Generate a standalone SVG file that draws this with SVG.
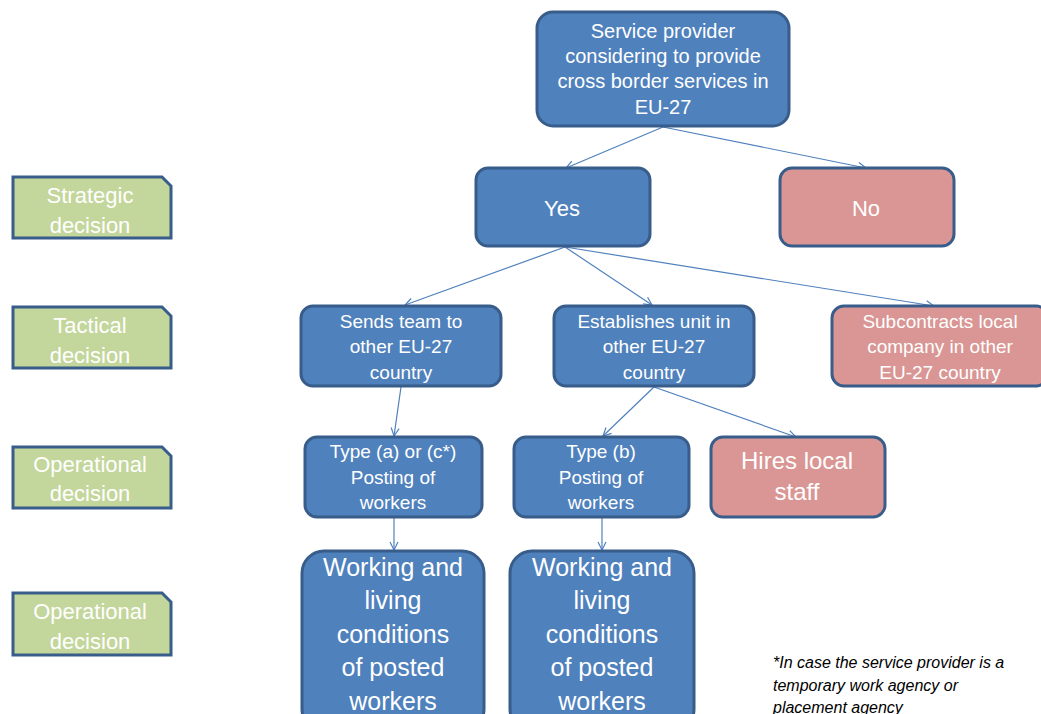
<svg xmlns="http://www.w3.org/2000/svg" width="1041" height="714" viewBox="0 0 1041 714">
<style>
.blue{fill:#4F81BD;stroke:#385D8A;stroke-width:3}
.pink{fill:#D99694;stroke:#385D8A;stroke-width:3}
.green{fill:#C3D69B;stroke:#385D8A;stroke-width:3}
text{font-family:"Liberation Sans",Arial,sans-serif;fill:#FFFFFF;text-anchor:middle}
.t20{font-size:20px}
.t19{font-size:19px}
.t22{font-size:22px}
.t24{font-size:24px}
.t25{font-size:25px}
.lab{font-size:22px}
.note{font-size:16px;font-style:italic;fill:#000000;text-anchor:start}
.conn line{stroke:#4F81BD;stroke-width:1.2;fill:none;marker-end:url(#arr)}
</style>
<defs>
<marker id="arr" markerUnits="userSpaceOnUse" markerWidth="12" markerHeight="12" refX="9" refY="5" orient="auto">
<path d="M1,1 L9,5 L1,9" fill="none" stroke="#4F81BD" stroke-width="1.2"/>
</marker>
</defs>
<rect width="1041" height="714" fill="#FFFFFF"/>

<g id="lab-strategic">
<path class="green" d="M13,177 H162 L171,186 V238 H13 Z"/>
<text class="lab" x="90" y="203">Strategic</text>
<text class="lab" x="90" y="233">decision</text>
</g>
<g id="lab-tactical">
<path class="green" d="M13,307 H162 L171,316 V368 H13 Z"/>
<text class="lab" x="90" y="333">Tactical</text>
<text class="lab" x="90" y="363">decision</text>
</g>
<g id="lab-operational1">
<path class="green" d="M13,447 H162 L171,456 V508 H13 Z"/>
<text class="lab" x="90" y="472">Operational</text>
<text class="lab" x="90" y="501">decision</text>
</g>
<g id="lab-operational2">
<path class="green" d="M13,593 H162 L171,602 V655 H13 Z"/>
<text class="lab" x="90" y="619">Operational</text>
<text class="lab" x="90" y="649">decision</text>
</g>

<g class="conn" id="connectors">
<line x1="663" y1="127" x2="566" y2="168"/>
<line x1="663" y1="127" x2="866" y2="168"/>
<line x1="565" y1="247" x2="405" y2="305"/>
<line x1="565" y1="247" x2="652" y2="305"/>
<line x1="565" y1="247" x2="934" y2="306"/>
<line x1="401" y1="387" x2="394" y2="436"/>
<line x1="654" y1="387" x2="603" y2="436"/>
<line x1="654" y1="387" x2="796" y2="437"/>
<line x1="394" y1="518" x2="394" y2="550"/>
<line x1="602" y1="518" x2="602" y2="550"/>
</g>

<g id="n-top">
<rect class="blue" x="537" y="12" width="252" height="114" rx="16"/>
<text class="t20" x="663" y="38">Service provider</text>
<text class="t20" x="663" y="63">considering to provide</text>
<text class="t20" x="663" y="88">cross border services in</text>
<text class="t20" x="663" y="114">EU-27</text>
</g>
<g id="n-yes">
<rect class="blue" x="476" y="168" width="174" height="78" rx="12"/>
<text class="t22" x="562" y="216">Yes</text>
</g>
<g id="n-no">
<rect class="pink" x="780" y="168" width="174" height="78" rx="12"/>
<text class="t22" x="866" y="216">No</text>
</g>
<g id="n-sends">
<rect class="blue" x="301" y="306" width="200" height="80" rx="12"/>
<text class="t19" x="401" y="328">Sends team to</text>
<text class="t19" x="401" y="353">other EU-27</text>
<text class="t19" x="401" y="379">country</text>
</g>
<g id="n-establishes">
<rect class="blue" x="554" y="306" width="200" height="80" rx="12"/>
<text class="t19" x="654" y="328">Establishes unit in</text>
<text class="t19" x="654" y="353">other EU-27</text>
<text class="t19" x="654" y="379">country</text>
</g>
<g id="n-subcontracts">
<rect class="pink" x="832" y="306" width="216" height="80" rx="12"/>
<text class="t19" x="940" y="328">Subcontracts local</text>
<text class="t19" x="940" y="353">company in other</text>
<text class="t19" x="940" y="379">EU-27 country</text>
</g>
<g id="n-typea">
<rect class="blue" x="305" y="437" width="177" height="80" rx="12"/>
<text class="t19" x="393" y="458">Type (a) or (c*)</text>
<text class="t19" x="393" y="484">Posting of</text>
<text class="t19" x="393" y="509">workers</text>
</g>
<g id="n-typeb">
<rect class="blue" x="514" y="437" width="175" height="80" rx="12"/>
<text class="t19" x="601" y="458">Type (b)</text>
<text class="t19" x="601" y="484">Posting of</text>
<text class="t19" x="601" y="509">workers</text>
</g>
<g id="n-hires">
<rect class="pink" x="711" y="437" width="174" height="80" rx="12"/>
<text class="t24" x="797" y="469">Hires local</text>
<text class="t24" x="797" y="500">staff</text>
</g>
<g id="n-working1">
<rect class="blue" x="302" y="551" width="182" height="180" rx="22"/>
<text class="t25" x="393" y="576">Working and</text>
<text class="t25" x="393" y="609">living</text>
<text class="t25" x="393" y="643">conditions</text>
<text class="t25" x="393" y="676">of posted</text>
<text class="t25" x="393" y="710">workers</text>
</g>
<g id="n-working2">
<rect class="blue" x="510" y="551" width="184" height="180" rx="22"/>
<text class="t25" x="602" y="576">Working and</text>
<text class="t25" x="602" y="609">living</text>
<text class="t25" x="602" y="643">conditions</text>
<text class="t25" x="602" y="676">of posted</text>
<text class="t25" x="602" y="710">workers</text>
</g>

<g id="footnote">
<text class="note" x="773" y="668">*In case the service provider is a</text>
<text class="note" x="773" y="691">temporary work agency or</text>
<text class="note" x="773" y="713">placement agency</text>
</g>
</svg>
